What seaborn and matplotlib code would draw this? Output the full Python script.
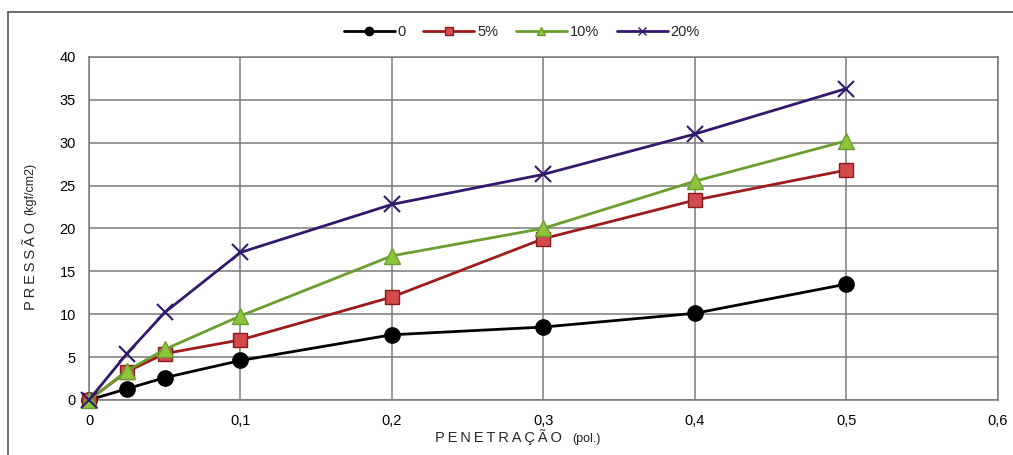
import numpy as np
import pandas as pd
import matplotlib
matplotlib.use("Agg")
import matplotlib.pyplot as plt
import seaborn as sns
from matplotlib.lines import Line2D

sns.set_theme(style="white")
plt.rcParams['font.family'] = ['Liberation Sans', 'DejaVu Sans']

# penetration (pol.) and pressure (kgf/cm2)
penetracao = [0, 0.025, 0.05, 0.1, 0.2, 0.3, 0.4, 0.5]
serie_0 = [0, 1.3, 2.6, 4.6, 7.6, 8.5, 10.1, 13.5]
serie_5 = [0, 3.3, 5.4, 7.0, 12.0, 18.8, 23.3, 26.8]
serie_10 = [0, 3.4, 5.9, 9.8, 16.8, 20.0, 25.5, 30.2]
serie_20 = [0, 5.4, 10.2, 17.2, 22.8, 26.3, 31.0, 36.3]
nomes = ["0", "5%", "10%", "20%"]

x_ticks = [0, 0.1, 0.2, 0.3, 0.4, 0.5, 0.6]
x_labels = ["0", "0,1", "0,2", "0,3", "0,4", "0,5", "0,6"]
y_ticks = [0, 5, 10, 15, 20, 25, 30, 35, 40]

df = pd.DataFrame({
    "pen": penetracao * 4,
    "pressao": serie_0 + serie_5 + serie_10 + serie_20,
    "serie": [n for n in nomes for _ in penetracao],
})

styles = {
    "0":   dict(color="#000000", marker="o", mfc="#000000", mec="#000000", ms=11),
    "5%":  dict(color="#9e1b1b", marker="s", mfc="#d24a4a", mec="#8b1a1a", ms=10),
    "10%": dict(color="#6a9e2e", marker="^", mfc="#8cc43c", mec="#6a9e2e", ms=12),
    "20%": dict(color="#33196b", marker="x", mfc="#33196b", mec="#33196b", ms=11),
}

fig = plt.figure(figsize=(10.13, 4.55), dpi=100)
ax = fig.add_axes([0.0879, 0.121, 0.897, 0.754])

for nome in nomes:
    st = styles[nome]
    sub = df[df["serie"] == nome]
    sns.lineplot(data=sub, x="pen", y="pressao", ax=ax, color=st["color"],
                 marker=st["marker"], markersize=st["ms"],
                 markerfacecolor=st["mfc"], markeredgecolor=st["mec"],
                 markeredgewidth=1.5 if nome == "20%" else 1.0,
                 linewidth=2, legend=False, zorder=3, clip_on=False)

ax.set_xlim(0, 0.6)
ax.set_ylim(0, 40)
ax.set_xticks(x_ticks)
ax.set_xticklabels(x_labels)
ax.set_yticks(y_ticks)
ax.grid(True, color="#7a7a7a", linewidth=1.1)
ax.set_axisbelow(True)
for s in ["left", "bottom", "top", "right"]:
    ax.spines[s].set_color("#7a7a7a")
    ax.spines[s].set_linewidth(1.1)
ax.tick_params(axis="both", direction="out", length=6, width=1.1,
               color="#7a7a7a", labelsize=10.5, labelcolor="#000000")
ax.xaxis.set_tick_params(pad=4)
ax.set_xlabel("")
ax.set_ylabel("")

# axis titles with spaced capitals and a smaller unit
sp = "\u2009"
fig.text(0.429, 0.022, sp.join("PENETRAÇÃO"), fontsize=10.5, ha="left", va="bottom")
fig.text(0.565, 0.022, "(pol.)", fontsize=9, ha="left", va="bottom")
fig.text(0.024, 0.319, sp.join("PRESSÃO"), fontsize=10.5, rotation=90, ha="left", va="bottom")
fig.text(0.024, 0.527, "(kgf/cm2)", fontsize=9, rotation=90, ha="left", va="bottom")

handles = []
for nome in nomes:
    st = styles[nome]
    handles.append(Line2D([], [], color=st["color"], marker=st["marker"],
                          markersize=6, markerfacecolor=st["mfc"],
                          markeredgecolor=st["mec"], linewidth=2))
fig.legend(handles, nomes, loc="center", bbox_to_anchor=(0.515, 0.93), ncol=4,
           frameon=False, fontsize=10.5, handlelength=3.5, handletextpad=0.2,
           columnspacing=1.2)

# outer frame (left and top edges visible)
fig.add_artist(Line2D([0.008, 0.008], [0, 0.974], transform=fig.transFigure,
                      color="#555555", linewidth=1.2))
fig.add_artist(Line2D([0.008, 1.0], [0.974, 0.974], transform=fig.transFigure,
                      color="#555555", linewidth=1.2))

fig.savefig("out.png", dpi=100)
